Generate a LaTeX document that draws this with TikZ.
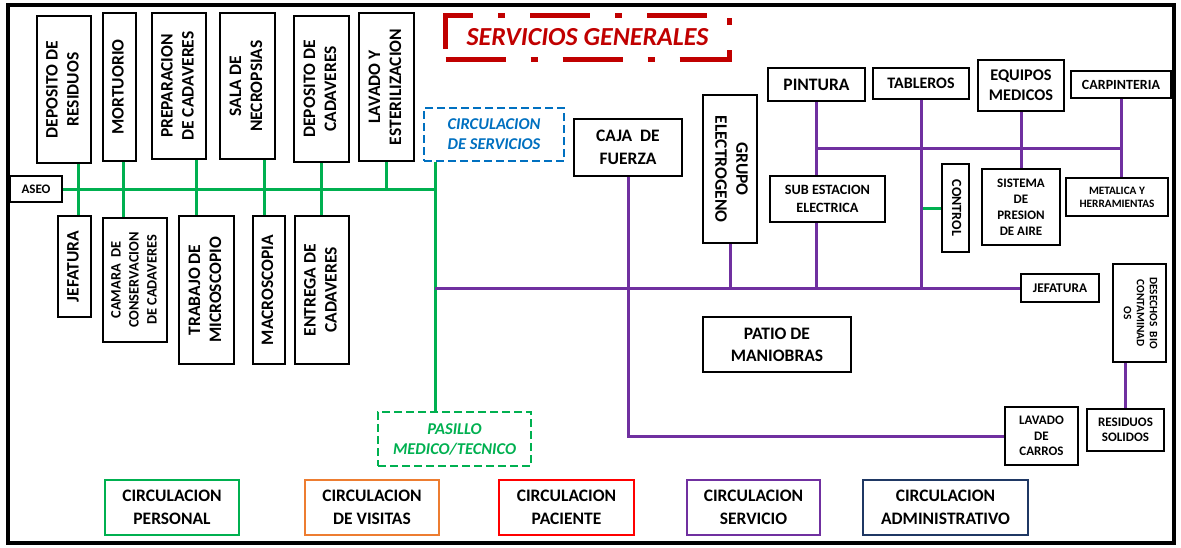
\documentclass[tikz,border=0pt]{standalone}
\usepackage{fontspec}
\setmainfont{Carlito}
\usetikzlibrary{positioning}

\definecolor{pgreen}{RGB}{0,176,80}
\definecolor{ppurple}{RGB}{112,48,160}
\definecolor{pblue}{RGB}{0,112,192}
\definecolor{porange}{RGB}{237,125,49}
\definecolor{pred}{RGB}{255,0,0}
\definecolor{pnavy}{RGB}{31,56,100}
\definecolor{titlered}{RGB}{192,0,0}

\newcommand{\rotup}[1]{\rotatebox{90}{\begin{tabular}{@{}c@{}}#1\end{tabular}}}
\newcommand{\rotdown}[1]{\rotatebox{-90}{\begin{tabular}{@{}c@{}}#1\end{tabular}}}

\begin{document}
\begin{tikzpicture}[
  x=1pt,y=-1pt,
  room/.style={draw,line width=2.8pt,fill=white,align=center,inner sep=1pt,
    font=\bfseries\fontsize{17.5}{21}\selectfont},
  midroom/.style={room,font=\bfseries\fontsize{14.2}{17.5}\selectfont},
  smallroom/.style={room,font=\bfseries\fontsize{13}{15.5}\selectfont},
  tinyroom/.style={room,font=\bfseries\fontsize{11.3}{13}\selectfont},
  zone/.style={draw,dash pattern=on 8pt off 4pt,line width=2.2pt,align=center,
    font=\bfseries\itshape\fontsize{16.5}{20}\selectfont},
  legend/.style={draw,line width=2.8pt,align=center,minimum height=55,
    font=\bfseries\fontsize{17.5}{23}\selectfont},
  personal/.style={draw=pgreen,line width=3pt},
  servicio/.style={draw=ppurple,line width=3pt}
]
  \useasboundingbox (0,0) rectangle (1181,547);
  \draw[line width=4.5pt] (8,5) rectangle (1174,543);

  % title
  \node[draw=titlered,line width=5pt,dash pattern=on 60pt off 25pt on 7pt off 25pt,
    text=titlered,font=\bfseries\itshape\fontsize{26}{30}\selectfont,
    minimum width=284,minimum height=44] (title) at (587.5,37.5) {SERVICIOS GENERALES};

  % left block, upper row
  \node[room,minimum width=54,minimum height=147] (depres) at (64,89.5) {\rotup{DEPOSITO DE\\RESIDUOS}};
  \node[room,minimum width=33,minimum height=148] (mort) at (119.5,87) {\rotup{MORTUORIO}};
  \node[room,minimum width=54,minimum height=146] (prepcad) at (179,86) {\rotup{PREPARACION\\DE CADAVERES}};
  \node[room,minimum width=55,minimum height=146] (necrop) at (247.5,86) {\rotup{SALA DE\\NECROPSIAS}};
  \node[room,minimum width=55,minimum height=146] (depcad) at (321.5,89) {\rotup{DEPOSITO DE\\CADAVERES}};
  \node[room,minimum width=55,minimum height=148] (lavest) at (386.5,87) {\rotup{LAVADO Y\\ESTERILIZACION}};
  \node[smallroom,minimum width=52,minimum height=26] (aseo) at (36,189) {ASEO};

  % left block, lower row
  \node[room,minimum width=33,minimum height=101] (jef) at (74.5,266.5) {\rotup{JEFATURA}};
  \node[room,font=\bfseries\fontsize{14.4}{18}\selectfont,minimum width=64,minimum height=124]
    (cam) at (135,280) {\rotup{CAMARA~~DE\\CONSERVACION\\DE CADAVERES}};
  \node[room,minimum width=55,minimum height=148] (trab) at (206.5,290) {\rotup{TRABAJO DE\\MICROSCOPIO}};
  \node[room,minimum width=32,minimum height=148] (macro) at (269,290) {\rotup{MACROSCOPIA}};
  \node[room,minimum width=54,minimum height=148] (entrega) at (322,290) {\rotup{ENTREGA DE\\CADAVERES}};

  % corridors
  \node[zone,draw=pblue,text=pblue,minimum width=140,minimum height=53] (circserv) at (494,134.5) {CIRCULACION\\DE SERVICIOS};
  \node[zone,draw=pgreen,text=pgreen,minimum width=153,minimum height=54] (pasillo) at (454.5,439) {PASILLO\\MEDICO/TECNICO};

  % right block
  \node[room,font=\bfseries\fontsize{17.5}{22.7}\selectfont,minimum width=108,minimum height=57] (caja) at (628,147.5) {CAJA~ DE\\FUERZA};
  \node[room,minimum width=54,minimum height=148] (grupo) at (730,169) {\rotdown{GRUPO\\ELECTROGENO}};
  \node[room,minimum width=97,minimum height=33] (pint) at (816.5,84.5) {PINTURA};
  \node[room,font=\bfseries\fontsize{16}{20}\selectfont,minimum width=96,minimum height=31] (tab) at (921,83.5) {TABLEROS};
  \node[room,font=\bfseries\fontsize{16.3}{20}\selectfont,minimum width=86,minimum height=51] (equip) at (1021,85.5) {EQUIPOS\\MEDICOS};
  \node[midroom,font=\bfseries\fontsize{14}{17}\selectfont,minimum width=100,minimum height=27] (carp) at (1121,84.5) {CARPINTERIA};
  \node[midroom,minimum width=115,minimum height=46] (subest) at (827.5,199) {SUB ESTACION\\ELECTRICA};
  \node[midroom,font=\bfseries\fontsize{14}{17}\selectfont,minimum width=27,minimum height=88] (control) at (955.5,208) {\rotdown{CONTROL}};
  \node[smallroom,font=\bfseries\fontsize{13}{16}\selectfont,minimum width=78,minimum height=76] (sist) at (1021,207) {SISTEMA\\DE\\PRESION\\DE AIRE};
  \node[tinyroom,minimum width=102,minimum height=38] (metal) at (1117,197) {METALICA Y\\HERRAMIENTAS};
  \node[smallroom,font=\bfseries\fontsize{13.3}{16}\selectfont,minimum width=78,minimum height=28] (jef2) at (1060,288) {JEFATURA};
  \node[tinyroom,minimum width=53,minimum height=98] (desechos) at (1139.5,313) {\rotdown{DESECHOS~~BIO\\CONTAMINAD\\OS}};
  \node[room,font=\bfseries\fontsize{17.5}{22}\selectfont,minimum width=148,minimum height=55] (patio) at (777,344.5) {PATIO DE\\MANIOBRAS};
  \node[smallroom,minimum width=73,minimum height=58] (lavado) at (1041.5,436) {LAVADO\\DE\\CARROS};
  \node[smallroom,minimum width=77,minimum height=42] (residuos) at (1125.5,430) {RESIDUOS\\SOLIDOS};

  % legend
  \node[legend,draw=pgreen,minimum width=134] (lgpers) at (172,507.5) {CIRCULACION\\PERSONAL};
  \node[legend,draw=porange,minimum width=134] (lgvis) at (372,507.5) {CIRCULACION\\DE VISITAS};
  \node[legend,draw=pred,minimum width=135] (lgpac) at (566.5,507.5) {CIRCULACION\\PACIENTE};
  \node[legend,draw=ppurple,minimum width=133] (lgserv) at (753.5,507.5) {CIRCULACION\\SERVICIO};
  \node[legend,draw=pnavy,minimum width=165] (lgadm) at (945.5,507.5) {CIRCULACION\\ADMINISTRATIVO};

  % green staff corridor
  \coordinate (gj) at (435,189);
  \coordinate (b1) at (78,189);
  \coordinate (b2) at (123,189);
  \coordinate (b3) at (196,189);
  \coordinate (b4) at (264,189);
  \coordinate (b5) at (321,189);
  \draw[personal] (aseo.east) -- (gj);
  \draw[personal] (gj |- circserv.south) -- (gj |- pasillo.north);
  \draw[personal] (b1 |- depres.south) -- (b1 |- jef.north);
  \draw[personal] (b2 |- mort.south) -- (b2 |- cam.north);
  \draw[personal] (b3 |- prepcad.south) -- (b3 |- trab.north);
  \draw[personal] (b4 |- necrop.south) -- (b4 |- macro.north);
  \draw[personal] (b5 |- depcad.south) -- (b5 |- entrega.north);
  \draw[personal] (lavest.south) -- (lavest.south |- gj);
  \draw[personal] (control.west) -- (control.west -| tab.south);

  % purple service corridor
  \coordinate (pj) at (435,288);
  \coordinate (hp) at (816,148);
  \draw[servicio] (pj) -- (jef2.west);
  \draw[servicio] (grupo.south) -- (grupo.south |- pj);
  \draw[servicio] (caja.south) -- (caja.south |- lavado.west) -- (lavado.west);
  \draw[servicio] (pint.south) -- (pint.south |- subest.north);
  \draw[servicio] (pint.south |- subest.south) -- (pint.south |- pj);
  \draw[servicio] (tab.south) -- (tab.south |- pj);
  \draw[servicio] (equip.south) -- (sist.north);
  \draw[servicio] (carp.south) -- (carp.south |- metal.north);
  \draw[servicio] (hp -| pint.south) -- (hp -| carp.south);
  \draw[servicio] (residuos.north) -- (residuos.north |- desechos.south);
\end{tikzpicture}
\end{document}
